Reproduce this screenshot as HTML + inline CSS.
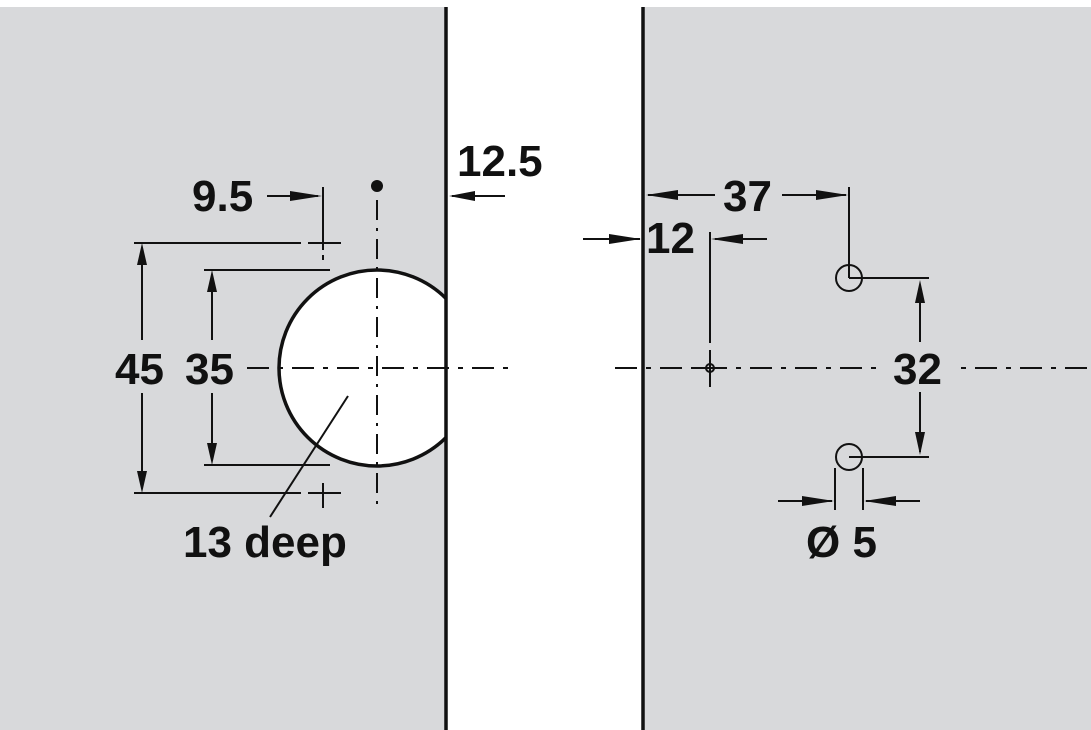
<!DOCTYPE html>
<html><head><meta charset="utf-8"><style>
html,body{margin:0;padding:0;background:#fff;}
svg{display:block;}
text{font-family:"Liberation Sans",sans-serif;font-weight:bold;font-size:44px;fill:#111;letter-spacing:0px;}
</style></head><body>
<svg width="1091" height="730" viewBox="0 0 1091 730" xmlns="http://www.w3.org/2000/svg">
<rect x="0" y="7" width="446" height="723" fill="#d8d9db"/>
<rect x="644" y="7" width="447" height="723" fill="#d8d9db"/>
<clipPath id="c"><rect x="0" y="0" width="446" height="730"/></clipPath>
<circle cx="377" cy="368" r="98" fill="#fff" stroke="#111" stroke-width="3.5" clip-path="url(#c)"/>
<line x1="446" y1="7" x2="446" y2="730" stroke="#111" stroke-width="3.5"/>
<line x1="643" y1="7" x2="643" y2="730" stroke="#111" stroke-width="3.5"/>
<g stroke="#111" stroke-width="2" fill="none">
<line x1="377" y1="200" x2="377" y2="510" stroke-dasharray="20,8,3,8"/>
<line x1="247" y1="368" x2="510" y2="368" stroke-dasharray="22,9,5,9"/>
<line x1="134" y1="243" x2="301" y2="243"/><line x1="308" y1="243" x2="341" y2="243"/>
<line x1="134" y1="493" x2="301" y2="493"/><line x1="308" y1="493" x2="341" y2="493"/>
<line x1="323" y1="483" x2="323" y2="508"/>
<line x1="142" y1="250" x2="142" y2="340"/><line x1="142" y1="393" x2="142" y2="488"/>
<line x1="204" y1="270" x2="330" y2="270"/><line x1="204" y1="465" x2="330" y2="465"/>
<line x1="212" y1="275" x2="212" y2="340"/><line x1="212" y1="393" x2="212" y2="460"/>
<line x1="267" y1="196" x2="318" y2="196"/>
<line x1="323" y1="187" x2="323" y2="250"/><line x1="323" y1="255" x2="323" y2="260"/>
<line x1="452" y1="196" x2="505" y2="196"/>
<line x1="348" y1="396" x2="270" y2="517"/>
<line x1="615" y1="368" x2="1091" y2="368" stroke-dasharray="22,9,5,9"/>
<line x1="648" y1="195" x2="715" y2="195"/><line x1="782" y1="195" x2="846" y2="195"/>
<line x1="849" y1="187" x2="849" y2="278"/>
<line x1="583" y1="239" x2="640" y2="239"/><line x1="715" y1="239" x2="767" y2="239"/>
<line x1="710" y1="232" x2="710" y2="343"/><line x1="710" y1="350" x2="710" y2="387"/>
<line x1="693" y1="368" x2="727" y2="368"/>
<circle cx="710" cy="368" r="4"/>
<circle cx="849" cy="278" r="13"/><circle cx="849" cy="457" r="13"/>
<line x1="849" y1="278" x2="929" y2="278"/><line x1="849" y1="457" x2="929" y2="457"/>
<line x1="920" y1="285" x2="920" y2="342"/><line x1="920" y1="392" x2="920" y2="452"/>
<line x1="835" y1="468" x2="835" y2="510"/><line x1="863" y1="468" x2="863" y2="510"/>
<line x1="778" y1="501" x2="832" y2="501"/><line x1="866" y1="501" x2="920" y2="501"/>
</g>
<rect x="884" y="345" width="72" height="46" fill="#d8d9db"/>
<g fill="#111">
<circle cx="377" cy="186" r="6"/>
<polygon points="142,243 137,265 147,265"/><polygon points="142,493 137,471 147,471"/>
<polygon points="212,270 207,292 217,292"/><polygon points="212,465 207,443 217,443"/>
<polygon points="322,196 290,191 290,201"/>
<polygon points="449,196 475,191 475,201"/>
<polygon points="646,195 678,190 678,200"/><polygon points="848,195 816,190 816,200"/>
<polygon points="641,239 609,234 609,244"/><polygon points="711,239 743,234 743,244"/>
<polygon points="920,280 915,303 925,303"/><polygon points="920,455 915,432 925,432"/>
<polygon points="834,501 802,496 802,506"/><polygon points="864,501 896,496 896,506"/>
</g>
<text x="192" y="211">9.5</text>
<text x="457" y="176">12.5</text>
<text x="115" y="384">45</text>
<text x="185" y="384">35</text>
<text x="183" y="557">13 deep</text>
<text x="723" y="211">37</text>
<text x="646" y="253">12</text>
<text x="893" y="384">32</text>
<text x="806" y="557">Ø 5</text>
</svg>
</body></html>
